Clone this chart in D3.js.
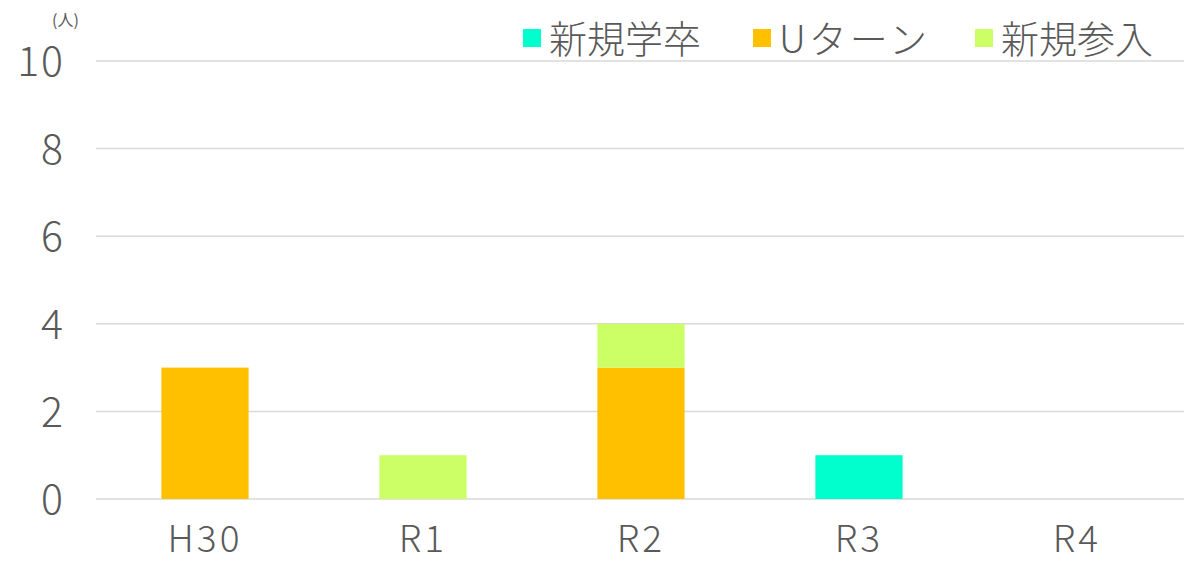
<!DOCTYPE html>
<html><head><meta charset="utf-8">
<script src="https://cdn.jsdelivr.net/npm/d3@7/dist/d3.min.js"></script>
<style>body{margin:0;background:#fff;}svg{display:block;}</style>
</head><body>
<svg id="c" width="1184" height="563"></svg>
<script>
const categories = ["H30","R1","R2","R3","R4"];
const seriesNames = ["新規学卒","Uターン","新規参入"];
const shinkiGakusotsu = [0,0,0,1,0];
const uTurn = [3,0,3,0,0];
const shinkiSannyu = [0,1,1,0,0];
const colors = ["#00ffcc","#ffc000","#ccff66"];
const yTicks = [0,2,4,6,8,10];

const data = categories.map((c,i)=>({cat:c,"新規学卒":shinkiGakusotsu[i],"Uターン":uTurn[i],"新規参入":shinkiSannyu[i]}));
const stack = d3.stack().keys(seriesNames)(data);

const svg = d3.select("#c");
const font = "'Noto Sans CJK JP', 'Noto Sans', sans-serif";
const x = d3.scaleBand().domain(categories).range([96,1186]).paddingInner(0.6).paddingOuter(0.3);
const y = d3.scaleLinear().domain([0,10]).range([499,61]);

// gridlines
svg.append("g").selectAll("line").data(yTicks).join("line")
  .attr("x1",96).attr("x2",1184)
  .attr("y1",d=>y(d)).attr("y2",d=>y(d))
  .attr("stroke","#d9d9d9").attr("stroke-width",1.5);

// y labels
const yAxis = d3.axisLeft(y).tickValues(yTicks).tickSize(0).tickPadding(0);
const gy = svg.append("g").attr("transform","translate(65,0)").call(yAxis);
gy.select(".domain").remove();
gy.selectAll("text").attr("font-family",font).attr("font-weight",300).attr("font-size",41)
  .attr("letter-spacing","2px").attr("fill","#595959").attr("dy","0.36em");

// x labels
const xAxis = d3.axisBottom(x).tickSize(0).tickPadding(0);
const gx = svg.append("g").call(xAxis);
gx.select(".domain").remove();
gx.selectAll("text").attr("font-family",font).attr("font-weight",300).attr("font-size",37)
  .attr("letter-spacing","3px").attr("fill","#595959").attr("y",552).attr("dy",null);

// bars
svg.append("g").selectAll("g").data(stack).join("g")
  .attr("fill",(d,i)=>colors[i])
  .selectAll("rect").data(d=>d).join("rect")
  .attr("x",d=>x(d.data.cat))
  .attr("width",x.bandwidth())
  .attr("y",d=>y(d[1]))
  .attr("height",d=>y(d[0])-y(d[1]));

// unit label
svg.append("text").attr("x",52).attr("y",26).attr("font-family",font).attr("font-size",16).attr("fill","#595959").text("(人)");

// legend
const legendX = [523,753,975];
const lg = svg.append("g");
seriesNames.forEach((s,i)=>{
  lg.append("rect").attr("x",legendX[i]).attr("y",29).attr("width",18).attr("height",18).attr("fill",colors[i]);
  lg.append("text").attr("x",legendX[i]+26).attr("y",36).attr("dominant-baseline","central")
    .attr("font-family",font).attr("font-weight",300).attr("font-size",38).attr("fill","#595959")
    .attr("letter-spacing", i===1 ? "3px" : "0px").text(s);
});
</script>
</body></html>
